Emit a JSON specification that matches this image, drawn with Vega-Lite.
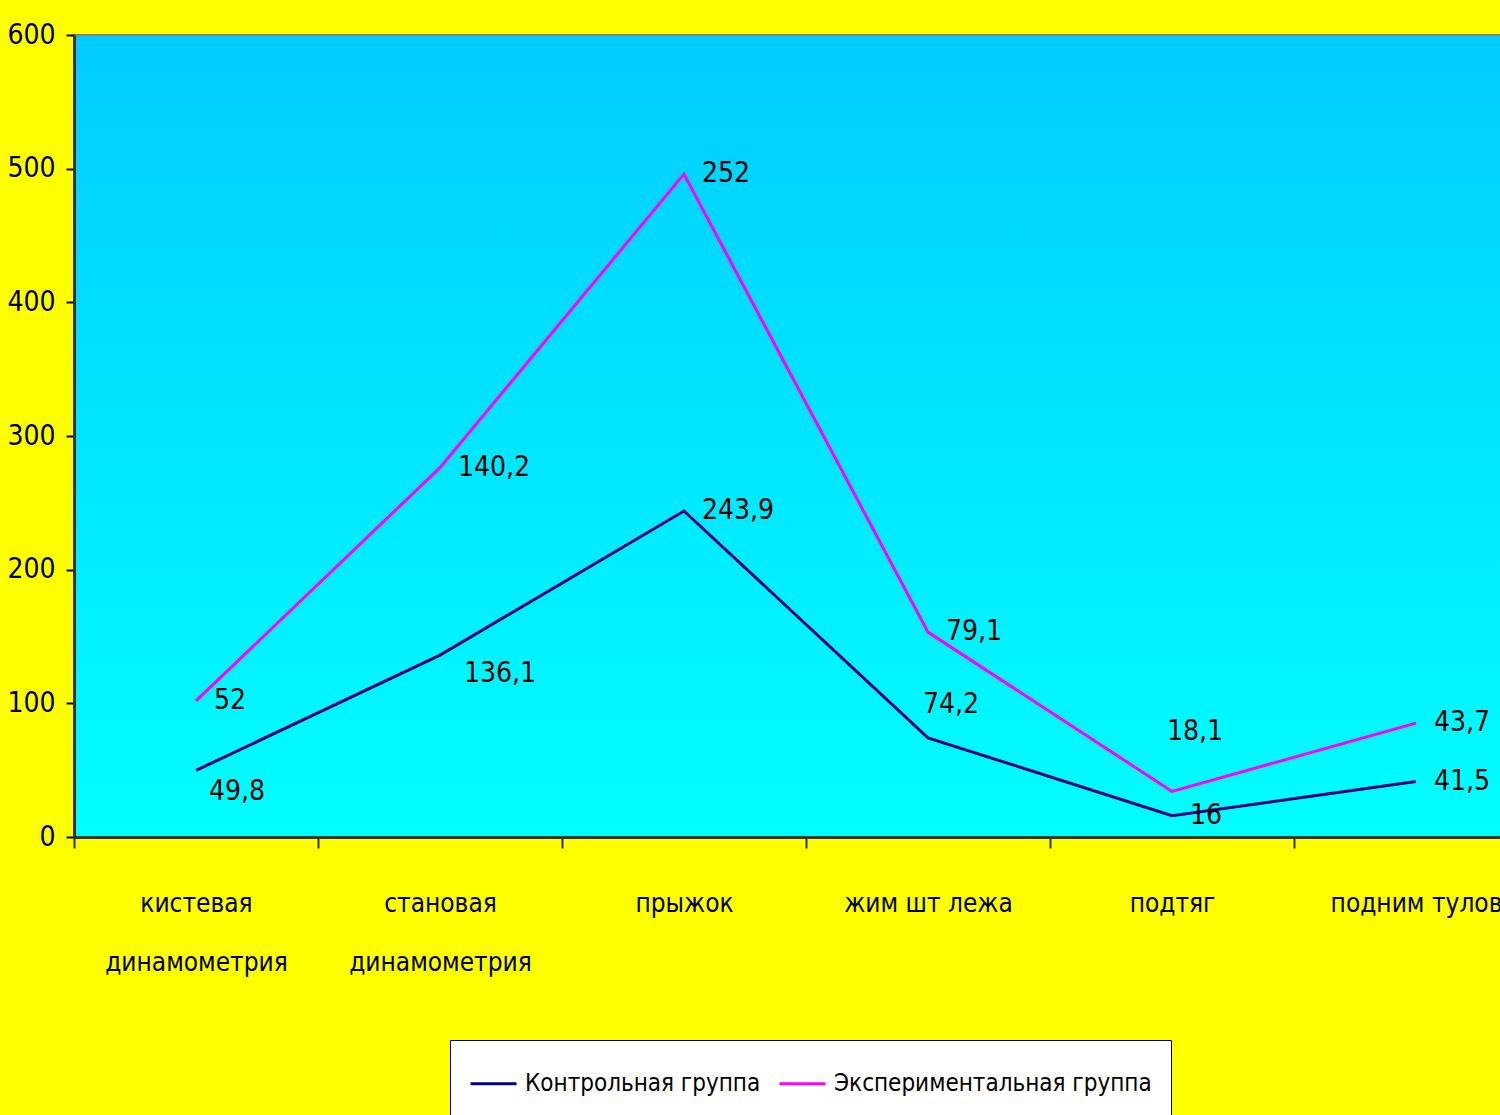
{
  "$schema": "https://vega.github.io/schema/vega-lite/v6.json",
  "width": 1464,
  "height": 802,
  "autosize": "none",
  "padding": {"left": 74, "top": 35, "right": 0, "bottom": 278},
  "background": "#FFFF00",
  "config": {
    "font": "DejaVu Sans Condensed, Liberation Sans, sans-serif",
    "view": {
      "stroke": "#808080",
      "strokeWidth": 2,
      "fill": {
        "gradient": "linear",
        "x1": 0, "y1": 0, "x2": 0, "y2": 1,
        "stops": [
          {"offset": 0, "color": "#00CCFF"},
          {"offset": 1, "color": "#00FFFF"}
        ]
      }
    },
    "text": {"font": "DejaVu Sans Condensed, Liberation Sans, sans-serif", "fontSize": 28, "color": "#000000"}
  },
  "data": {
    "values": [
      {"cat": "кистевая\nдинамометрия", "series": "Контрольная группа", "value": 49.8},
      {"cat": "становая\nдинамометрия", "series": "Контрольная группа", "value": 136.1},
      {"cat": "прыжок", "series": "Контрольная группа", "value": 243.9},
      {"cat": "жим шт лежа", "series": "Контрольная группа", "value": 74.2},
      {"cat": "подтяг", "series": "Контрольная группа", "value": 16},
      {"cat": "подним тулов", "series": "Контрольная группа", "value": 41.5},
      {"cat": "кистевая\nдинамометрия", "series": "Экспериментальная группа", "value": 52},
      {"cat": "становая\nдинамометрия", "series": "Экспериментальная группа", "value": 140.2},
      {"cat": "прыжок", "series": "Экспериментальная группа", "value": 252},
      {"cat": "жим шт лежа", "series": "Экспериментальная группа", "value": 79.1},
      {"cat": "подтяг", "series": "Экспериментальная группа", "value": 18.1},
      {"cat": "подним тулов", "series": "Экспериментальная группа", "value": 43.7}
    ]
  },
  "transform": [
    {"stack": "value", "groupby": ["cat"], "sort": [{"field": "series", "order": "ascending"}], "as": ["y0", "y1"]},
    {"calculate": "replace(format(datum.value, ''), '.', ',')", "as": "lbl"}
  ],
  "encoding": {
    "x": {
      "field": "cat",
      "type": "nominal",
      "sort": ["кистевая\nдинамометрия", "становая\nдинамометрия", "прыжок", "жим шт лежа", "подтяг", "подним тулов"],
      "scale": {"type": "band", "paddingInner": 0, "paddingOuter": 0},
      "axis": {
        "title": null,
        "labelAngle": 0,
        "labelExpr": "split(datum.label, '\\n')",
        "labelFont": "DejaVu Sans Condensed, Liberation Sans, sans-serif",
        "labelFontSize": 26,
        "labelLineHeight": 59,
        "labelLimit": 400,
        "labelOverlap": false,
        "labelColor": "#000000",
        "labelPadding": 42,
        "tickBand": "extent",
        "tickSize": 11,
        "tickColor": "#333333",
        "tickWidth": 2,
        "domainColor": "#333333",
        "domainWidth": 3,
        "grid": false
      }
    },
    "y": {
      "field": "y1",
      "type": "quantitative",
      "scale": {"domain": [0, 600], "nice": false},
      "axis": {
        "title": null,
        "values": [0, 100, 200, 300, 400, 500, 600],
        "labelFont": "DejaVu Sans Condensed, Liberation Sans, sans-serif",
        "labelFontSize": 28,
        "labelColor": "#000000",
        "labelPadding": 11,
        "tickSize": 8,
        "tickColor": "#000000",
        "tickWidth": 2,
        "domainColor": "#333333",
        "domainWidth": 3,
        "grid": false
      }
    }
  },
  "layer": [
    {
      "mark": {"type": "line", "strokeWidth": 3},
      "encoding": {
        "color": {
          "field": "series",
          "type": "nominal",
          "scale": {"domain": ["Контрольная группа", "Экспериментальная группа"], "range": ["#000080", "#FF00FF"]},
          "legend": {
            "title": null,
            "orient": "none",
            "legendX": 376,
            "legendY": 1005,
            "direction": "horizontal",
            "symbolType": "stroke",
            "symbolSize": 2116,
            "symbolStrokeWidth": 3,
            "labelFont": "DejaVu Sans Condensed, Liberation Sans, sans-serif",
            "labelFontSize": 24,
            "labelColor": "#000000",
            "labelOffset": 7,
            "labelLimit": 500,
            "columnPadding": 12,
            "fillColor": "#FFFFFF",
            "strokeColor": "#000000",
            "padding": 19
          }
        }
      }
    },
    {
      "transform": [{"filter": "!((datum.series == 'Контрольная группа' && (indexof(datum.cat, 'динамометрия') >= 0 || datum.cat == 'жим шт лежа')) || (datum.series == 'Экспериментальная группа' && datum.cat == 'подтяг'))"}],
      "mark": {"type": "text", "align": "left", "baseline": "middle", "dx": 18},
      "encoding": {"text": {"field": "lbl"}}
    },
    {
      "transform": [{"filter": "datum.series == 'Контрольная группа' && datum.cat == 'кистевая\\nдинамометрия'"}],
      "mark": {"type": "text", "align": "left", "baseline": "middle", "dx": 13, "dy": 22},
      "encoding": {"text": {"field": "lbl"}}
    },
    {
      "transform": [{"filter": "datum.series == 'Контрольная группа' && datum.cat == 'становая\\nдинамометрия'"}],
      "mark": {"type": "text", "align": "left", "baseline": "middle", "dx": 24, "dy": 19},
      "encoding": {"text": {"field": "lbl"}}
    },
    {
      "transform": [{"filter": "datum.series == 'Контрольная группа' && datum.cat == 'жим шт лежа'"}],
      "mark": {"type": "text", "align": "left", "baseline": "middle", "dx": -5, "dy": -33},
      "encoding": {"text": {"field": "lbl"}}
    },
    {
      "transform": [{"filter": "datum.series == 'Экспериментальная группа' && datum.cat == 'подтяг'"}],
      "mark": {"type": "text", "align": "left", "baseline": "middle", "dx": -5, "dy": -59},
      "encoding": {"text": {"field": "lbl"}}
    }
  ]
}
